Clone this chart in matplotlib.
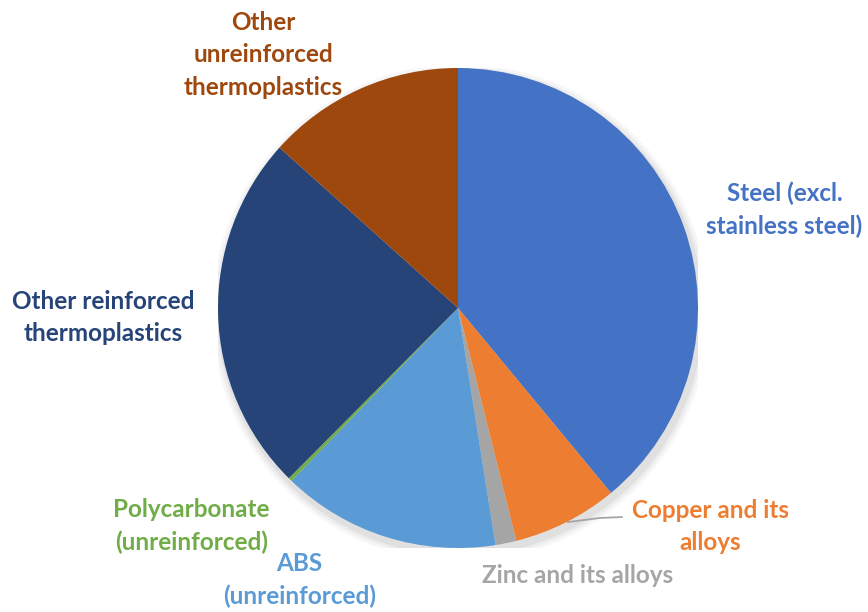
import matplotlib
matplotlib.use("Agg")
import matplotlib.pyplot as plt

# shares in %, clockwise from 12 o'clock
labels = [
    "Steel (excl.\nstainless steel)",
    "Copper and its\nalloys",
    "Zinc and its alloys",
    "ABS\n(unreinforced)",
    "Polycarbonate\n(unreinforced)",
    "Other reinforced\nthermoplastics",
    "Other\nunreinforced\nthermoplastics",
]
shares = [39.0, 7.1, 1.4, 14.7, 0.25, 24.2, 13.35]
colors = ["#4472C4", "#ED7D31", "#A5A5A5", "#5B9BD5", "#70AD47", "#264478", "#9E480E"]

# label anchor points (pie radius = 1)
label_xy = [
    (1.36, 0.41),
    (1.05, -0.91),
    (0.50, -1.115),
    (-0.66, -1.135),
    (-1.11, -0.91),
    (-1.48, -0.04),
    (-0.81, 1.055),
]

fig = plt.figure(figsize=(8.68, 6.12), dpi=100)
ax = fig.add_axes([218 / 868, 64 / 612, 480 / 868, 480 / 612])

# soft shadow under the pie
for k, a in enumerate([0.05, 0.04, 0.03]):
    ax.add_patch(plt.Circle((0.01, -0.02), 1.0 + 0.012 * (k + 1), color="black",
                            alpha=a, lw=0, zorder=0))

wedges, _ = ax.pie(shares, colors=colors, startangle=90, counterclock=False,
                   radius=1.0, wedgeprops=dict(linewidth=0))
for w in wedges:
    w.set_zorder(2)

for lab, (x, y), c in zip(labels, label_xy, colors):
    ax.text(x, y, lab, ha="center", va="center", color=c, fontsize=17.5,
            fontweight="bold", family="Lato", linespacing=1.5, zorder=3)

# leader line for the copper label
ax.plot([0.458, 0.59, 0.683], [-0.892, -0.875, -0.871], color="#A5A5A5", lw=1.3,
        zorder=1, clip_on=False)

ax.set_xlim(-1, 1)
ax.set_ylim(-1, 1)
ax.set_aspect("equal")
ax.axis("off")

fig.savefig("out.png", dpi=100)
